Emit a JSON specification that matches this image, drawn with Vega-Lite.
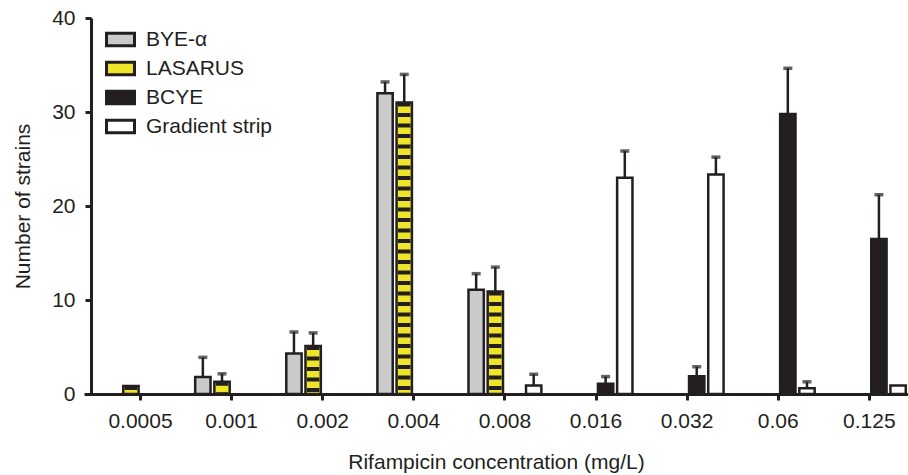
{
  "$schema": "https://vega.github.io/schema/vega-lite/v6.json",
  "autosize": "none",
  "padding": {"left": 84, "top": 18, "right": 0, "bottom": 81},
  "width": 824,
  "height": 376,
  "background": "white",
  "config": {
    "font": "Liberation Sans",
    "view": {"stroke": null},
    "axis": {
      "domainColor": "#231f20",
      "domainWidth": 3,
      "tickColor": "#231f20",
      "tickWidth": 3,
      "tickSize": 6,
      "labelFont": "Liberation Sans",
      "labelFontSize": 21,
      "labelColor": "#231f20",
      "titleFont": "Liberation Sans",
      "titleFontSize": 21,
      "titleFontWeight": "normal",
      "titleColor": "#231f20",
      "grid": false
    }
  },
  "data": {
    "values": [
      {"conc": "0.0005", "series": "LASARUS", "value": 0.85},
      {"conc": "0.001", "series": "BYE-α", "value": 1.8, "err": 3.9},
      {"conc": "0.001", "series": "LASARUS", "value": 1.3, "err": 2.15},
      {"conc": "0.002", "series": "BYE-α", "value": 4.3, "err": 6.6},
      {"conc": "0.002", "series": "LASARUS", "value": 5.1, "err": 6.5},
      {"conc": "0.004", "series": "BYE-α", "value": 32.0, "err": 33.2},
      {"conc": "0.004", "series": "LASARUS", "value": 31.0, "err": 34.0},
      {"conc": "0.008", "series": "BYE-α", "value": 11.1, "err": 12.8},
      {"conc": "0.008", "series": "LASARUS", "value": 10.9, "err": 13.5},
      {"conc": "0.008", "series": "Gradient strip", "value": 0.9, "err": 2.1},
      {"conc": "0.016", "series": "BCYE", "value": 1.1, "err": 1.85},
      {"conc": "0.016", "series": "Gradient strip", "value": 23.0, "err": 25.85},
      {"conc": "0.032", "series": "BCYE", "value": 1.9, "err": 2.9},
      {"conc": "0.032", "series": "Gradient strip", "value": 23.35, "err": 25.2},
      {"conc": "0.06", "series": "BCYE", "value": 29.8, "err": 34.65},
      {"conc": "0.06", "series": "Gradient strip", "value": 0.6, "err": 1.3},
      {"conc": "0.125", "series": "BCYE", "value": 16.5, "err": 21.2},
      {"conc": "0.125", "series": "Gradient strip", "value": 0.9}
    ]
  },
  "encoding": {
    "x": {
      "field": "conc",
      "type": "nominal",
      "sort": ["0.0005", "0.001", "0.002", "0.004", "0.008", "0.016", "0.032", "0.06", "0.125"],
      "scale": {"paddingInner": 0.2, "paddingOuter": 0.1225, "align": 0.9},
      "axis": {"labelAngle": 0, "labelPadding": 10, "title": "Rifampicin concentration (mg/L)", "titlePadding": 20}
    },
    "xOffset": {
      "field": "series",
      "type": "nominal",
      "scale": {"domain": ["BYE-α", "LASARUS", "BCYE", "Gradient strip"], "paddingInner": 0.2}
    }
  },
  "layer": [
    {
      "mark": {"type": "bar", "stroke": "#231f20", "strokeWidth": 2.5, "strokeJoin": "miter"},
      "encoding": {
        "y": {
          "field": "value",
          "type": "quantitative",
          "scale": {"domain": [0, 40], "nice": false},
          "axis": {"values": [0, 10, 20, 30, 40], "offset": -7, "labelPadding": 10, "title": "Number of strains", "titlePadding": 18}
        },
        "fill": {
          "field": "series",
          "type": "nominal",
          "scale": {
            "domain": ["BYE-α", "LASARUS", "BCYE", "Gradient strip"],
            "range": ["#c9cac9", "#eee42a", "#231f20", "#ffffff"]
          },
          "legend": {
            "title": null,
            "orient": "none",
            "legendX": 21,
            "legendY": 6,
            "symbolType": "M-1,-0.45H1V0.45H-1Z",
            "symbolSize": 784,
            "symbolStrokeColor": "#231f20",
            "symbolStrokeWidth": 3,
            "symbolOpacity": 1,
            "labelFont": "Liberation Sans",
            "labelFontSize": 21,
            "labelColor": "#231f20",
            "labelOffset": 10,
            "rowPadding": 1
          }
        }
      }
    },
    {
      "transform": [{"filter": "datum.series == 'LASARUS'"}],
      "mark": {"type": "rule", "color": "#231f20", "strokeWidth": 12.5, "strokeDash": [4, 6.5]},
      "encoding": {
        "y": {"field": "value", "type": "quantitative"},
        "y2": {"datum": 0}
      }
    },
    {
      "transform": [{"filter": "isValid(datum.err)"}],
      "mark": {"type": "rule", "color": "#231f20", "strokeWidth": 2.5},
      "encoding": {
        "y": {"field": "value", "type": "quantitative"},
        "y2": {"field": "err"}
      }
    },
    {
      "transform": [{"filter": "isValid(datum.err)"}],
      "mark": {"type": "tick", "color": "#231f20", "size": 9, "thickness": 3.5, "orient": "horizontal"},
      "encoding": {
        "y": {"field": "err", "type": "quantitative"}
      }
    }
  ]
}
